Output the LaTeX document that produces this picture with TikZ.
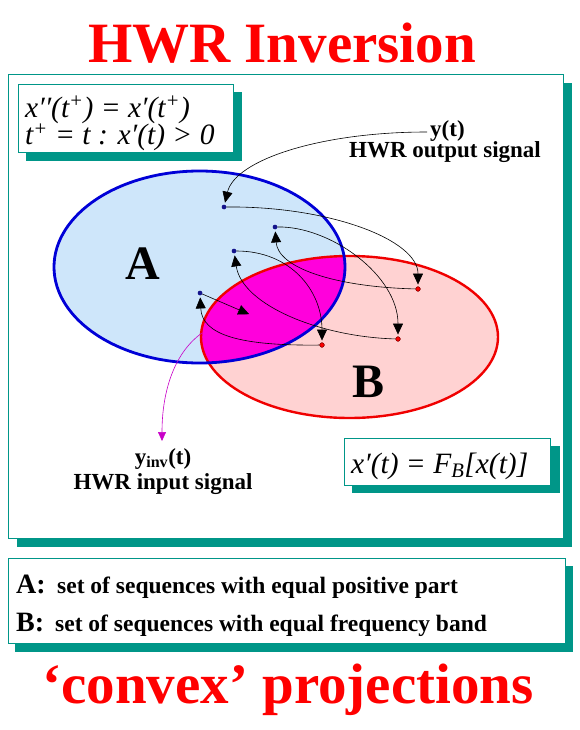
\documentclass[tikz,border=0pt]{standalone}
\usepackage{fontspec}
\setmainfont{Liberation Serif}
\usetikzlibrary{arrows.meta}
\definecolor{teal1}{RGB}{0,150,136}
\definecolor{fillA}{RGB}{206,230,250}
\definecolor{fillB}{RGB}{255,210,210}
\definecolor{mag}{RGB}{255,0,220}
\definecolor{bluA}{RGB}{0,0,215}
\definecolor{redB}{RGB}{240,0,0}
\definecolor{titred}{RGB}{255,0,0}
\definecolor{navy1}{RGB}{20,20,140}
\definecolor{magline}{RGB}{200,0,200}
\begin{document}
\begin{tikzpicture}[x=1pt,y=-1pt,
  shadowbox/.style={fill=teal1},
  framebox/.style={fill=white,draw=teal1,line width=0.8pt},
  conn/.style={line width=0.6pt,-{Triangle[length=11pt,width=10pt]},shorten >=2pt},
  magconn/.style={magline,line width=0.6pt,-{Triangle[length=9pt,width=8pt]}},
  bdot/.style={circle,fill=navy1,inner sep=0pt,minimum size=4.5pt},
  rdot/.style={circle,fill=red,draw={rgb,255:red,120;green,0;blue,0},line width=0.4pt,inner sep=0pt,minimum size=4.5pt},
  ttl/.style={text=titred,font=\fontsize{57}{60}\selectfont\bfseries,inner sep=0pt},
  lbl/.style={font=\fontsize{23}{24}\selectfont\bfseries,inner sep=0pt},
  eq/.style={font=\fontsize{29.5}{25}\selectfont\itshape,inner sep=0pt},
  big/.style={font=\fontsize{48}{48}\selectfont\bfseries,inner sep=0pt},
  leg/.style={font=\fontsize{23.5}{24}\selectfont\bfseries,inner sep=0pt,anchor=base west},
]
\useasboundingbox (0,0) rectangle (580,730);
\fill[white] (0,0) rectangle (580,730);

% titles
\node[ttl,anchor=base] (title) at (282,63) {HWR Inversion};
\node[ttl,anchor=base] (conv) at (288,703) {‘convex’ projections};

% main frame
\fill[shadowbox] (17,83) rectangle (572,547);
\draw[framebox] (8,74) rectangle (563,538);

% equation box top-left
\fill[shadowbox] (26,92) rectangle (242,161);
\draw[framebox] (18,84) rectangle (233,152);
\node[eq,anchor=base west,align=left] (eq1) at (25,145) {x′′(t\textsuperscript{+}) = x′(t\textsuperscript{+})\\t\textsuperscript{+} = t : x′(t) > 0};

% sets
\fill[fillA] (199.5,267) ellipse [x radius=145.5, y radius=96];
\fill[fillB] (349.5,337) ellipse [x radius=148.5, y radius=81];
\begin{scope}
  \clip (199.5,267) ellipse [x radius=145.5, y radius=96];
  \fill[mag] (349.5,337) ellipse [x radius=148.5, y radius=81];
\end{scope}
\draw[redB,line width=2.4pt] (349.5,337) ellipse [x radius=148.5, y radius=81];
\draw[bluA,line width=2.8pt] (199.5,267) ellipse [x radius=145.5, y radius=96];

\node[big,anchor=base] (la) at (143,279) {A};
\node[big,anchor=base] (lb) at (369,397) {B};

% points
\node[bdot] (p1) at (224,207) {};
\node[bdot] (p2) at (275,227) {};
\node[bdot] (p3) at (234,251) {};
\node[bdot] (p4) at (200,293) {};
\node[rdot] (q1) at (418,289) {};
\node[rdot] (q2) at (398,339) {};
\node[rdot] (q3) at (322,345) {};

% labels
\node[lbl,anchor=base west] (yt) at (430,137) {y(t)};
\node[lbl,anchor=base] (yto) at (445,158) {HWR output signal};
\node[lbl,anchor=base] (yi) at (163,464) {y\textsubscript{inv}(t)};
\node[lbl,anchor=base] (yii) at (163,489) {HWR input signal};

\coordinate (ys) at (427,132);
\coordinate (tee) at (251,315);
\coordinate (ms) at (202,333);
\coordinate (me) at (162,441);

% connectors
\draw[conn] (ys) .. controls (320,132) and (235,160) .. (p1);
\draw[conn] (p1) .. controls (330,206) and (418,240) .. (q1);
\draw[conn] (q1) .. controls (335,287) and (278,268) .. (p2);
\draw[conn] (p2) .. controls (330,226) and (398,275) .. (q2);
\draw[conn] (q2) .. controls (320,337) and (242,305) .. (p3);
\draw[conn] (p3) .. controls (290,251) and (322,290) .. (q3);
\draw[conn] (q3) .. controls (240,346) and (202,335) .. (p4);
\draw[conn] (p4) -- (tee);
\draw[magconn] (ms) .. controls (175,352) and (162,390) .. (me);

% redraw dots on top
\node[bdot] at (p1) {};
\node[bdot] at (p2) {};
\node[bdot] at (p3) {};
\node[bdot] at (p4) {};
\node[rdot] at (q1) {};
\node[rdot] at (q2) {};
\node[rdot] at (q3) {};

% F_B box
\fill[shadowbox] (352,446) rectangle (560,493);
\draw[framebox] (344,438) rectangle (550,485);
\node[eq,anchor=base west] (fb) at (351,473) {x′(t) = F\textsubscript{B}[x(t)]};

% legend box
\fill[shadowbox] (15,566) rectangle (573,652);
\draw[framebox] (8,558) rectangle (565,643);
\node[leg,font=\fontsize{28}{28}\selectfont\bfseries] (la2) at (16,593) {A:};
\node[leg] (lat) at (57,593) {set of sequences with equal positive part};
\node[leg,font=\fontsize{28}{28}\selectfont\bfseries] (lb2) at (16,631) {B:};
\node[leg] (lbt) at (55,631) {set of sequences with equal frequency band};
\end{tikzpicture}
\end{document}
